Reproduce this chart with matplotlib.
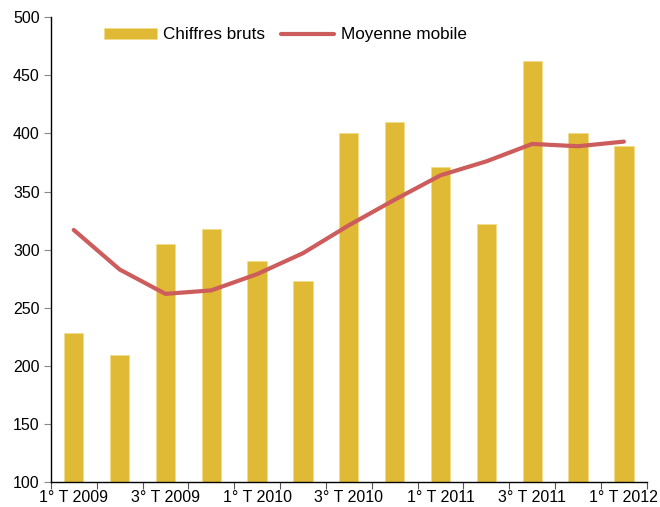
import matplotlib
matplotlib.use('Agg')
import matplotlib.pyplot as plt
import numpy as np

plt.rcParams['font.family'] = ['Liberation Sans', 'DejaVu Sans']

quarters = ['1° T 2009', '2° T 2009', '3° T 2009', '4° T 2009',
            '1° T 2010', '2° T 2010', '3° T 2010', '4° T 2010',
            '1° T 2011', '2° T 2011', '3° T 2011', '4° T 2011',
            '1° T 2012']
raw = [228, 209, 305, 318, 290, 273, 400, 410, 371, 322, 462, 400, 389]
moving_avg = [317, 283, 262, 265, 279, 297, 321, 343, 364, 376, 391, 389, 393]

bar_color = '#E0B935'
line_color = '#CD5C5C'

fig = plt.figure(figsize=(6.6, 5.07), dpi=100)
ax = fig.add_axes([0.077, 0.049, 0.903, 0.917])

x = np.arange(len(quarters))
bars = ax.bar(x, raw, width=0.42, color=bar_color, edgecolor='#F2DC8A', linewidth=0.6,
              label='Chiffres bruts', zorder=2)
line, = ax.plot(x, moving_avg, color=line_color, linewidth=3, solid_capstyle='round',
                label='Moyenne mobile', zorder=3)

ax.set_xlim(-0.5, len(quarters) - 0.5)
ax.set_ylim(100, 500)
ax.set_yticks(range(100, 501, 50))

ax.set_xticks(x[::2])
ax.set_xticklabels(quarters[::2])
ax.set_xticks(np.arange(-0.5, len(quarters), 1), minor=True)
ax.tick_params(axis='x', which='major', length=0, pad=6, labelsize=11.5)
ax.tick_params(axis='x', which='minor', length=5, width=0.8, color='#555555')
ax.tick_params(axis='y', length=5, width=0.8, color='#888888', labelsize=11.5, pad=3)

for s in ['top', 'right']:
    ax.spines[s].set_visible(False)
ax.spines['left'].set_linewidth(1)
ax.spines['bottom'].set_linewidth(1)

fig.legend(handles=[bars, line], loc='center left', bbox_to_anchor=(0.157, 0.931),
           ncol=2, frameon=False, fontsize=12.3, handlelength=3.1, handleheight=0.55,
           handletextpad=0.4, columnspacing=0.9, borderpad=0, borderaxespad=0)

fig.savefig('out.png', dpi=100)
